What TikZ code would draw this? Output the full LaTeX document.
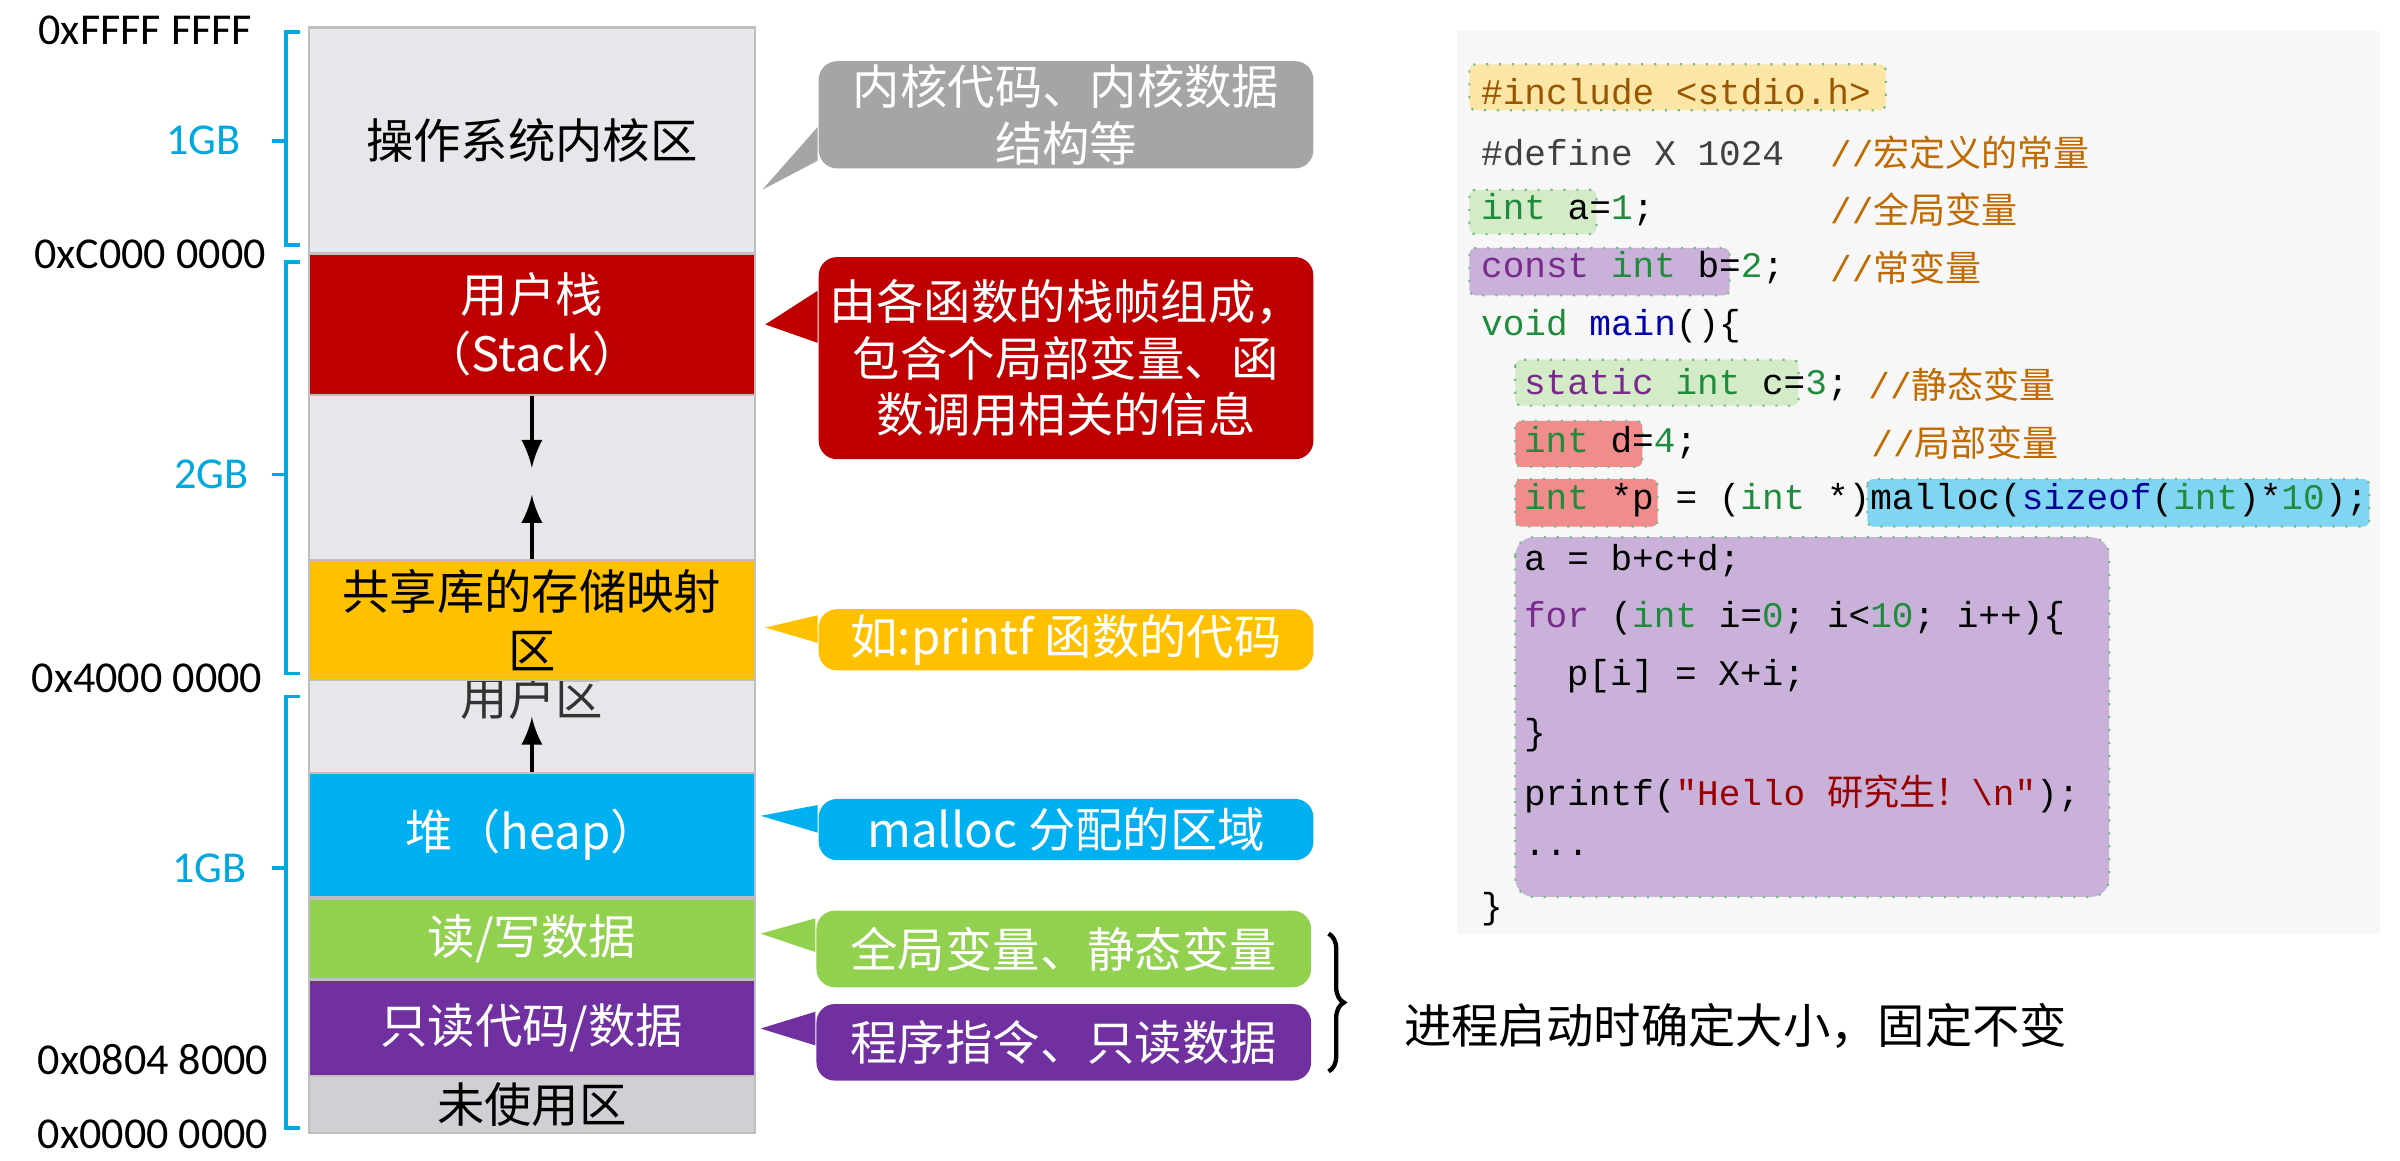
\documentclass[tikz,border=0pt]{standalone}
\usepackage{fontspec}
\setmainfont{Noto Sans CJK SC}
\newfontfamily\addrfont{Carlito}
\newfontfamily\codefont{Liberation Mono}
\newfontfamily\cjk{Noto Sans CJK SC}
\usetikzlibrary{positioning,decorations.pathreplacing}

\definecolor{kerngray}{HTML}{E7E7EB}
\definecolor{stackred}{HTML}{C00000}
\definecolor{libyellow}{HTML}{FFC000}
\definecolor{heapblue}{HTML}{00B0F0}
\definecolor{rwgreen}{HTML}{92D050}
\definecolor{ropurple}{HTML}{7030A0}
\definecolor{unusedgray}{HTML}{D0D0D4}
\definecolor{callgray}{HTML}{A5A5A5}
\definecolor{bracecyan}{HTML}{00A8E0}
\definecolor{cmtcol}{HTML}{C06A00}
\definecolor{hlyellow}{HTML}{FBE6A6}
\definecolor{hlgreen}{HTML}{D3EBC6}
\definecolor{hlpurple}{HTML}{C9B1D9}
\definecolor{hlred}{HTML}{F08C8C}
\definecolor{hlcyan}{HTML}{80D6F2}
\definecolor{kwgreen}{HTML}{1E8C3C}
\definecolor{kwpurple}{HTML}{7A2A8C}

\newcommand{\kwg}[1]{\textcolor{kwgreen}{#1}}
\newcommand{\kwp}[1]{\textcolor{kwpurple}{#1}}

\tikzset{
  blk/.style={minimum width=2.91cm, inner sep=0pt, draw=gray!50, font=\fontsize{8.8pt}{11pt}\selectfont, align=center},
  call/.style={rounded corners=0.12cm, minimum width=3.23cm, inner sep=0pt, font=\fontsize{8.8pt}{10.5pt}\selectfont, align=center, text=white},
  addr/.style={font=\addrfont\fontsize{8.2pt}{9pt}\selectfont},
  size/.style={font=\addrfont\fontsize{8.2pt}{9pt}\selectfont, text=bracecyan},
  bk/.style={draw=bracecyan, line width=0.7pt},
  code/.style={anchor=west, inner sep=0pt, font=\codefont\fontsize{6.7pt}{8pt}\selectfont},
  cmt/.style={anchor=west, inner sep=0pt, text=cmtcol, font=\codefont\fontsize{6.7pt}{8pt}\selectfont},
  hl/.style={fill=#1, draw=kwgreen!60, dotted, rounded corners=0.04cm}
}

\begin{document}
\begin{tikzpicture}[x=0.01cm, y=-0.01cm]
  \useasboundingbox (0,0) rectangle (1568,758);

  % memory column
  \node[blk, fill=kerngray, minimum height=1.47cm] (kern) at (347.5,91.5) {操作系统内核区};
  \node[blk, fill=stackred, text=white, minimum height=0.92cm] (stack) at (347.5,212) {用户栈\\（Stack）};
  \node[blk, fill=kerngray, minimum height=1.08cm] (gap) at (347.5,312) {};
  \node[blk, fill=kerngray, minimum height=0.61cm] (user) at (347.5,474.5) {};
  \node[font=\fontsize{8.8pt}{11pt}\selectfont, text=black!80] (userlbl) at (347.5,456) {用户区};
  \node[blk, fill=libyellow, minimum height=0.78cm] (lib) at (347.5,405) {共享库的存储映射\\区};
  \node[blk, fill=heapblue, text=white, minimum height=0.81cm] (heap) at (347.5,545.5) {堆（heap）};
  \node[blk, fill=rwgreen, text=white, minimum height=0.53cm] (rw) at (347.5,613.5) {读/写数据};
  \node[blk, fill=ropurple, text=white, minimum height=0.63cm] (ro) at (347.5,671.5) {只读代码/数据};
  \node[blk, fill=unusedgray, minimum height=0.37cm] (unused) at (347.5,721.5) {未使用区};

  \draw[-latex, line width=0.8pt] (stack.south) -- ++(0,47);
  \draw[-latex, line width=0.8pt] (lib.north) -- ++(0,-42);
  \draw[-latex, line width=0.8pt] (heap.north) -- ++(0,-36);

  % addresses and sizes
  \node[addr] (a1) at (95,20) {0xFFFF FFFF};
  \node[addr] (a2) at (98,166) {0xC000 0000};
  \node[addr] (a3) at (96,443) {0x4000 0000};
  \node[addr] (a4) at (100,692) {0x0804 8000};
  \node[addr] (a5) at (100,741) {0x0000 0000};
  \node[size] (s1) at (133,92) {1GB};
  \node[size] (s2) at (138,310) {2GB};
  \node[size] (s3) at (137,567) {1GB};
  \draw[bk] (196,21) -- (187,21) -- (187,160) -- (196,160);
  \draw[bk] (178,92) -- (187,92);
  \draw[bk] (196,171) -- (187,171) -- (187,440) -- (196,440);
  \draw[bk] (178,310) -- (187,310);
  \draw[bk] (196,455) -- (187,455) -- (187,737) -- (196,737);
  \draw[bk] (178,567) -- (187,567);

  % callouts
  \node[call, fill=callgray, minimum height=0.70cm] (ckern) at (696.5,75) {内核代码、内核数据\\结构等};
  \node[call, fill=stackred, minimum height=1.32cm] (cstack) at (696.5,234) {由各函数的栈帧组成，\\包含个局部变量、函\\数调用相关的信息};
  \node[call, fill=libyellow, minimum height=0.40cm] (clib) at (696.5,418) {如:printf 函数的代码};
  \node[call, fill=heapblue, minimum height=0.40cm] (cheap) at (696.5,542) {malloc 分配的区域};
  \node[call, fill=rwgreen, minimum height=0.50cm] (crw) at (695,620) {全局变量、静态变量};
  \node[call, fill=ropurple, minimum height=0.50cm] (cro) at (695,681) {程序指令、只读数据};
  \fill[callgray] (498,124) -- ([yshift=-0.08cm]ckern.west) -- ([yshift=-0.3cm]ckern.west) -- cycle;
  \fill[stackred] (500,212) -- ([yshift=0.44cm]cstack.west) -- ([yshift=0.1cm]cstack.west) -- cycle;
  \fill[libyellow] (500,410) -- ([yshift=0.16cm]clib.west) -- ([yshift=-0.02cm]clib.west) -- cycle;
  \fill[heapblue] (497,533) -- ([yshift=0.16cm]cheap.west) -- ([yshift=-0.02cm]cheap.west) -- cycle;
  \fill[rwgreen] (497,610) -- ([yshift=0.2cm]crw.west) -- ([yshift=-0.02cm]crw.west) -- cycle;
  \fill[ropurple] (497,672) -- ([yshift=0.2cm]cro.west) -- ([yshift=-0.02cm]cro.west) -- cycle;

  \coordinate (btop) at (868,610);
  \coordinate (bbot) at (868,700);
  \draw[line width=0.8pt, decorate, decoration={brace, amplitude=0.1cm}] (btop) -- (bbot);
  \node[anchor=west, font=\fontsize{8.8pt}{11pt}\selectfont] (fixed) at (905,670) {进程启动时确定大小，固定不变};

  % code panel
  \fill[black!3] (952,20) rectangle (1555,610);
  \filldraw[hl=hlyellow] (960,42) rectangle (1232,72);
  \filldraw[hl=hlgreen] (960,124) rectangle (1043,153);
  \filldraw[hl=hlpurple] (960,162) rectangle (1130,193);
  \filldraw[hl=hlgreen] (990,235) rectangle (1175,265);
  \filldraw[hl=hlred] (990,275) rectangle (1073,305);
  \filldraw[hl=hlred] (990,313) rectangle (1083,344);
  \filldraw[hl=hlcyan] (1220,313) rectangle (1548,344);
  \filldraw[hl=hlpurple, rounded corners=0.12cm] (990,351) rectangle (1378,586);

  \node[code, text=cmtcol!80!black] (l1) at (967,60) {\#include <stdio.h>};
  \node[code, text=black!75] (l2) at (967,100) {\#define X 1024};
  \node[code] (l3) at (967,137) {\kwg{int} a=\kwg{1};};
  \node[code] (l4) at (967,175) {\kwp{const} \kwg{int} b=\kwg{2};};
  \node[code] (l5) at (967,213) {\kwg{void} \textcolor{blue!70!black}{main}()\{};
  \node[code] (l6) at (995,251) {\kwp{static} \kwg{int} c=\kwg{3};};
  \node[code] (l7) at (995,289) {\kwg{int} d=\kwg{4};};
  \node[code] (l8) at (995,327) {\kwg{int} *p = (\kwg{int} *)malloc(\textcolor{blue!60!black}{sizeof}(\kwg{int})*\kwg{10});};
  \node[code] (l9) at (995,366) {a = b+c+d;};
  \node[code] (l10) at (995,404) {\kwp{for} (\kwg{int} i=\kwg{0}; i<\kwg{10}; i++)\{};
  \node[code] (l11) at (1023,442) {p[i] = X+i;};
  \node[code] (l12) at (995,480) {\}};
  \node[code] (l13) at (995,519) {printf(\textcolor{red!60!black}{"Hello {\cjk 研究生！}\textbackslash n"});};
  \node[code] (l14) at (995,557) {...};
  \node[code] (l15) at (967,594) {\}};

  \node[cmt] (c2) at (1195,100) {//{\cjk 宏定义的常量}};
  \node[cmt] (c3) at (1195,137) {//{\cjk 全局变量}};
  \node[cmt] (c4) at (1195,175) {//{\cjk 常变量}};
  \node[cmt] (c6) at (1220,251) {//{\cjk 静态变量}};
  \node[cmt] (c7) at (1222,289) {//{\cjk 局部变量}};
\end{tikzpicture}
\end{document}
